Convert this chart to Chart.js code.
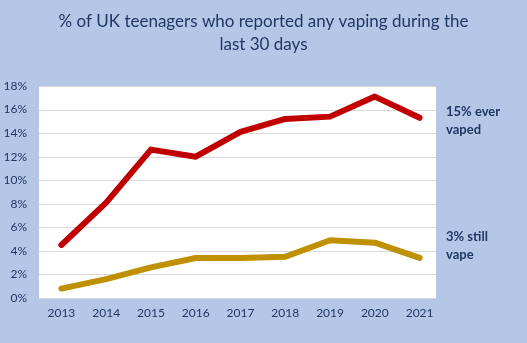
<!DOCTYPE html>
<html><head><meta charset="utf-8">
<script src="https://cdn.jsdelivr.net/npm/chart.js@4"></script>
<style>html,body{margin:0;padding:0;background:#B4C7E7;}#wrap{width:527px;height:343px;}</style>
</head><body><div id="wrap"><canvas id="c" width="527" height="343"></canvas></div>
<script>
const years = ['2013','2014','2015','2016','2017','2018','2019','2020','2021'];
const everVaped = [4.5, 8.1, 12.6, 12.0, 14.1, 15.2, 15.4, 17.1, 15.3];
const stillVape = [0.8, 1.6, 2.6, 3.4, 3.4, 3.5, 4.9, 4.7, 3.4];
const titleLines = ['% of UK teenagers who reported any vaping during the', 'last 30 days'];
const sideLabels = [['15% ever', 'vaped'], ['3% still', 'vape']];
const yTicks = [0, 2, 4, 6, 8, 10, 12, 14, 16, 18];

const NAVY = '#1F3864';
const FONT = 'Lato, "Open Sans", sans-serif';

const plotBg = {
  id: 'plotBg',
  beforeDatasetsDraw(chart) {
    const {ctx, chartArea: a, scales: {y}} = chart;
    const right = a.right - 6;
    ctx.save();
    ctx.fillStyle = '#FFFFFF';
    ctx.fillRect(a.left, a.top, right - a.left, a.bottom - a.top);
    ctx.strokeStyle = '#D9D9D9';
    ctx.lineWidth = 1;
    yTicks.forEach(v => {
      const py = Math.round(y.getPixelForValue(v)) + 0.5;
      ctx.beginPath(); ctx.moveTo(a.left, py); ctx.lineTo(right, py); ctx.stroke();
    });
    ctx.restore();
  },
  afterDraw(chart) {
    const {ctx, chartArea: a} = chart;
    ctx.save();
    ctx.fillStyle = NAVY;
    ctx.textBaseline = 'middle';
    ctx.textAlign = 'center';
    ctx.font = '17px ' + FONT;
    ctx.fillText(titleLines[0], chart.width / 2, 22);
    ctx.fillText(titleLines[1], chart.width / 2, 45);
    ctx.font = 'bold 13px ' + FONT;
    ctx.textAlign = 'left';
    const x = a.right + 4;
    ctx.fillText(sideLabels[0][0], x, 112);
    ctx.fillText(sideLabels[0][1], x, 130);
    ctx.fillText(sideLabels[1][0], x, 237);
    ctx.fillText(sideLabels[1][1], x, 255);
    ctx.restore();
  }
};

new Chart(document.getElementById('c'), {
  type: 'line',
  data: {
    labels: years,
    datasets: [
      {label: 'Ever vaped', data: everVaped, borderColor: '#C00000', borderWidth: 6,
       borderCapStyle: 'round', borderJoinStyle: 'round', pointRadius: 0, tension: 0},
      {label: 'Still vape', data: stillVape, borderColor: '#BF9000', borderWidth: 6,
       borderCapStyle: 'round', borderJoinStyle: 'round', pointRadius: 0, tension: 0}
    ]
  },
  options: {
    responsive: false,
    animation: false,
    devicePixelRatio: 1,
    layout: {padding: {left: 0, right: 85, top: 86, bottom: 0}},
    plugins: {
      legend: {display: false},
      tooltip: {enabled: false},
      title: {display: false}
    },
    scales: {
      x: {
        offset: true,
        grid: {display: false, tickLength: 0},
        border: {display: false},
        ticks: {color: NAVY, font: {family: FONT, size: 12}, padding: 8, maxRotation: 0, autoSkip: false},
        afterFit(s) { s.height = 45; }
      },
      y: {
        min: 0, max: 18,
        grid: {display: false, tickLength: 0},
        border: {display: false},
        afterBuildTicks(s) { s.ticks = yTicks.map(v => ({value: v})); },
        ticks: {color: NAVY, font: {family: FONT, size: 12}, padding: 12,
                callback: v => v + '%'},
        afterFit(s) { s.width = 39; }
      }
    }
  },
  plugins: [plotBg]
});
</script></body></html>
